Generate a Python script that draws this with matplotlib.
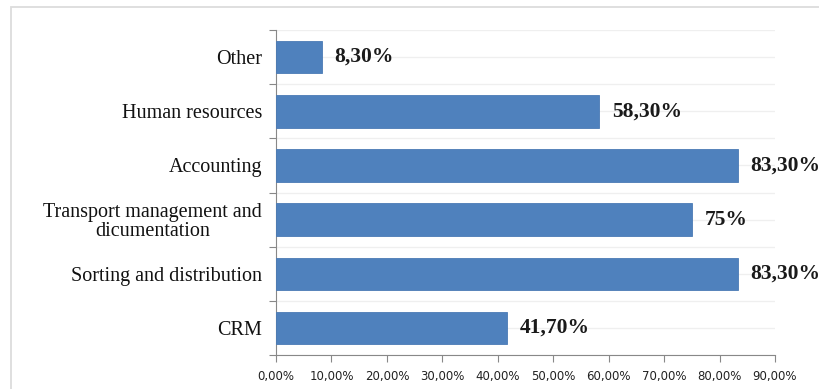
import matplotlib.pyplot as plt
from matplotlib.patches import Rectangle
from matplotlib.ticker import FixedLocator

categories = ["CRM", "Sorting and distribution", "Transport management and\ndicumentation",
              "Accounting", "Human resources", "Other"]
values = [41.7, 83.3, 75.0, 83.3, 58.3, 8.3]
value_labels = ["41,70%", "83,30%", "75%", "83,30%", "58,30%", "8,30%"]
xticks = [0, 10, 20, 30, 40, 50, 60, 70, 80, 90]
xtick_labels = ["0,00%", "10,00%", "20,00%", "30,00%", "40,00%", "50,00%",
                "60,00%", "70,00%", "80,00%", "90,00%"]

W, H = 820, 389
fig = plt.figure(figsize=(W / 100, H / 100), dpi=100)
# light frame around the chart area (cut off at right and bottom)
fig.patches.append(Rectangle((11 / W, -0.1), 1.2, (H - 7) / H + 0.1, transform=fig.transFigure,
                             fill=False, edgecolor="#dcdcdc", linewidth=1.3))
ax = fig.add_axes([276 / W, 1 - 355 / H, (775 - 276) / W, (355 - 30) / H])

y = list(range(len(categories)))
ax.barh(y, values, height=0.6, color="#4f81bd", edgecolor="#4a7ab5", linewidth=0.6, zorder=3)

for yi, v, lab in zip(y, values, value_labels):
    ax.annotate(lab, (v, yi), xytext=(9, 0), textcoords="offset points",
                va="center", ha="left", fontsize=15.5, fontweight="bold",
                family="Liberation Serif", color="#1a1a1a")

ax.set_xlim(0, 90)
ax.set_ylim(-0.5, len(categories) - 0.5)
ax.set_xticks(xticks)
ax.set_xticklabels(xtick_labels, fontsize=8.5, family="DejaVu Sans", color="#222222")
ax.set_yticks([i + 0.5 for i in range(-1, len(categories))], minor=False)
ax.set_yticklabels([])
ax.yaxis.set_minor_locator(FixedLocator(y))
ax.set_yticklabels(categories, minor=True, fontsize=14.5, family="Liberation Serif",
                   color="#111111", linespacing=1.0)
for t in ax.get_yticklabels(minor=True):
    t.set_multialignment("center")
ax.tick_params(axis="y", which="minor", length=0, pad=10)
ax.tick_params(axis="y", which="major", length=5, direction="out", color="#888888")
ax.tick_params(axis="x", length=5, direction="out", color="#888888", pad=6)

# faint horizontal gridlines at every half category
for g in [i * 0.5 - 0.5 for i in range(2 * len(categories) + 1)]:
    ax.axhline(g, color="#efefef", linewidth=0.9, zorder=0)

for side in ["top", "right"]:
    ax.spines[side].set_visible(False)
ax.spines["left"].set_color("#888888")
ax.spines["bottom"].set_color("#888888")

fig.savefig("out.png", dpi=100)
